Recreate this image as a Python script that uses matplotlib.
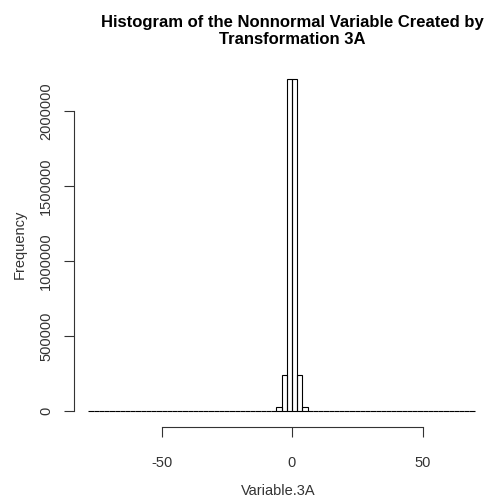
import numpy as np
import matplotlib.pyplot as plt

plt.rcParams['font.family'] = ['Liberation Sans', 'DejaVu Sans']

# histogram bins: width 2, from -78 to 70
bin_start = -78
bin_width = 2
counts = [
    1, 0, 0, 0, 0, 0, 0, 0, 0, 0,
    0, 1, 0, 0, 0, 1, 1, 0, 1, 1,
    2, 3, 4, 6, 9, 14, 22, 35, 55, 90,
    150, 260, 450, 800, 1500, 3200, 27000, 240000,
    2215000, 2212000,
    238000, 26500, 3100, 1450, 780, 430, 250, 140, 85, 50,
    32, 20, 12, 8, 5, 3, 2, 1, 1, 1,
    0, 0, 1, 0, 0, 0, 0, 0, 0, 0,
    0, 0, 0, 1,
]
edges = bin_start + bin_width * np.arange(len(counts) + 1)

x_ticks = [-50, 0, 50]
y_ticks = [0, 500000, 1000000, 1500000, 2000000]

W, H = 491, 500
fig = plt.figure(figsize=(W / 100, H / 100), dpi=100)
left, right, bottom, top = 74, 482, 427, 62
ax = fig.add_axes([left / W, 1 - bottom / H, (right - left) / W, (bottom - top) / H])

ax.bar(edges[:-1], counts, width=bin_width, align='edge',
       fill=False, edgecolor='black', linewidth=0.8)

# pixel mapping: x=0 at px 292, 2.61 px per unit; y=0 at px 411, 150 px per million
x0, xs = 292, 2.61
ax.set_xlim((left - x0) / xs, (right - x0) / xs)
ax.set_ylim((411 - bottom) / 150 * 1e6, (411 - top) / 150 * 1e6)

for s in ['top', 'right']:
    ax.spines[s].set_visible(False)
ax.spines['left'].set_bounds(0, 2000000)
ax.spines['bottom'].set_bounds(-50, 50)
ax.spines['left'].set_color('#333333')
ax.spines['bottom'].set_color('#333333')

ax.set_xticks(x_ticks)
ax.set_xticklabels([str(t) for t in x_ticks])
ax.set_yticks(y_ticks)
ax.set_yticklabels([str(t) for t in y_ticks], rotation=90, va='center')
ax.tick_params(axis='both', length=7, width=0.8, labelsize=10.5, colors='#333333')
ax.tick_params(axis='x', pad=14)
ax.tick_params(axis='y', pad=8)

ax.set_xlabel('Variable.3A', fontsize=10.5, labelpad=10, color='#333333')
ax.set_ylabel('Frequency', fontsize=10.5, labelpad=9, color='#333333')

fig.text(292 / W, 1 - 31 / H,
         'Histogram of the Nonnormal Variable Created by\nTransformation 3A',
         ha='center', va='center', fontsize=12, fontweight='bold',
         linespacing=1.25)

fig.savefig('out.png', dpi=100)
